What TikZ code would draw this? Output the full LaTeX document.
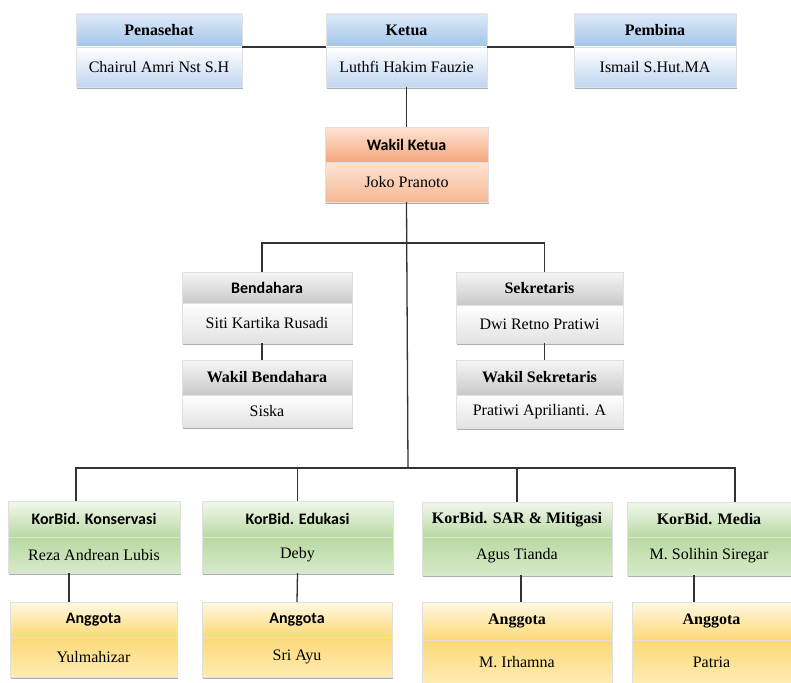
\documentclass[tikz,border=0pt]{standalone}
\usepackage{fontspec}
\setmainfont{Liberation Serif}
\newfontfamily\calfont{Carlito}
\usetikzlibrary{positioning,shadows,calc}

\definecolor{blueA}{HTML}{DDEAF9}
\definecolor{blueB}{HTML}{A2C4EA}
\definecolor{blueC}{HTML}{C0D6F0}
\definecolor{orangeA}{HTML}{FDE4D5}
\definecolor{orangeB}{HTML}{F4A67C}
\definecolor{orangeC}{HTML}{F6B893}
\definecolor{grayA}{HTML}{F6F6F6}
\definecolor{grayB}{HTML}{C9C9C9}
\definecolor{grayC}{HTML}{E2E2E2}
\definecolor{greenA}{HTML}{F1F8EC}
\definecolor{greenB}{HTML}{B9D9A2}
\definecolor{greenC}{HTML}{D6EAC8}
\definecolor{yellowA}{HTML}{FFF8E2}
\definecolor{yellowB}{HTML}{FCD977}
\definecolor{yellowC}{HTML}{FFECB3}

\tikzset{link/.style={draw=black!80,line width=1.3pt}}
\tikzset{unit/.style={inner sep=0pt,outer sep=0pt,draw=black!12,line width=0.4pt,
    font=\fontsize{16}{18}\selectfont,
    drop shadow={shadow xshift=1.2pt,shadow yshift=-1.8pt,fill=black!45,opacity=0.7}}}
\tikzset{headfont/.style={font=\fontsize{16}{18}\selectfont\bfseries}}
\tikzset{bluehead/.style={unit,headfont,top color=blueA,bottom color=blueB}}
\tikzset{bluebody/.style={unit,top color=white,bottom color=blueC}}
\tikzset{orangehead/.style={unit,headfont,top color=orangeA,bottom color=orangeB}}
\tikzset{orangebody/.style={unit,top color=orangeA,bottom color=orangeC}}
\tikzset{grayhead/.style={unit,headfont,top color=grayA,bottom color=grayB}}
\tikzset{graybody/.style={unit,top color=white,bottom color=grayC}}
\tikzset{greenhead/.style={unit,headfont,top color=greenA,bottom color=greenB}}
\tikzset{greenbody/.style={unit,top color=greenB,bottom color=greenC}}
\tikzset{yellowhead/.style={unit,headfont,top color=yellowA,bottom color=yellowB}}
\tikzset{yellowbody/.style={unit,top color=yellowB,bottom color=yellowC}}

% name, colour, x, top, width, head height, body height, head, body
\newcommand{\orgunit}[9]{%
  \node[#2head,minimum width=#5pt,minimum height=#6pt,anchor=north west] (#1h) at (#3,#4) {#8};
  \node[#2body,minimum width=#5pt,minimum height=#7pt,anchor=north] (#1b) at (#1h.south) {#9};
}

\begin{document}
\begin{tikzpicture}[x=1pt,y=-1pt]
  \useasboundingbox[fill=white] (0,0) rectangle (791,682);

  % Top row
  \orgunit{pen}{blue}{76}{14}{166}{33}{40}{Penasehat}{Chairul Amri Nst S.H}
  \orgunit{ket}{blue}{326}{14}{161}{33}{40}{Ketua}{Luthfi Hakim Fauzie}
  \orgunit{pem}{blue}{574}{14}{162}{33}{40}{Pembina}{Ismail S.Hut.MA}
  \orgunit{wak}{orange}{325}{127}{163}{35}{40}{\calfont Wakil Ketua}{Joko Pranoto}

  % Bendahara and Sekretaris
  \orgunit{ben}{gray}{182}{272}{170}{31}{40}{\calfont Bendahara}{Siti Kartika Rusadi}
  \orgunit{sek}{gray}{456}{272}{167}{33}{38}{Sekretaris}{Dwi Retno Pratiwi}
  \orgunit{wben}{gray}{182}{360}{170}{35}{32}{Wakil Bendahara}{Siska}
  \orgunit{wsek}{gray}{456}{360}{167}{35}{33}{Wakil Sekretaris}{Pratiwi Aprilianti. A}

  % KorBid row
  \orgunit{kon}{green}{8}{501}{172}{36}{36}{\calfont KorBid. Konservasi}{Reza Andrean Lubis}
  \orgunit{edu}{green}{202}{501}{191}{36}{36}{\calfont KorBid. Edukasi}{Deby}
  \orgunit{sar}{green}{422}{502}{190}{35}{38}{KorBid. SAR \& Mitigasi}{Agus Tianda}
  \orgunit{med}{green}{627}{502}{164}{35}{38}{KorBid. Media}{M. Solihin Siregar}

  % Anggota row
  \orgunit{ang1}{yellow}{10}{602}{167}{35}{40}{\calfont Anggota}{Yulmahizar}
  \orgunit{ang2}{yellow}{202}{602}{190}{35}{40}{\calfont Anggota}{Sri Ayu}
  \orgunit{ang3}{yellow}{422}{602}{190}{38}{44}{Anggota}{M. Irhamna}
  \orgunit{ang4}{yellow}{632}{602}{159}{38}{44}{Anggota}{Patria}

  \coordinate (split) at (408,243);
  \coordinate (bus) at (408,468);

  % Connectors
  \draw[link] (penb.north east) -- (ketb.north west);
  \draw[link] (ketb.north east) -- (pemb.north west);
  \draw[link] (ketb.south) -- (wakh.north);
  \draw[link] (wakb.south) -- (bus);
  \draw[link] ([xshift=-5pt]benh.north) |- (split) -| ([xshift=5pt]sekh.north);
  \draw[link] ([xshift=-5pt]benb.south) -- ([xshift=-5pt]wbenh.north);
  \draw[link] ([xshift=5pt]sekb.south) -- ([xshift=5pt]wsekh.north);
  \draw[link] ([xshift=-18pt]konh.north) |- (bus) -| ([xshift=26pt]medh.north);
  \draw[link] (eduh.north) -- (eduh.north |- bus);
  \draw[link] (sarh.north) -- (sarh.north |- bus);
  \draw[link] ([xshift=-25pt]konb.south) -- ([xshift=-25pt]konb.south |- ang1h.north);
  \draw[link] (edub.south) -- (ang2h.north);
  \draw[link] ([xshift=4pt]sarb.south) -- ([xshift=4pt]ang3h.north);
  \draw[link] ([xshift=-15pt]medb.south) -- ([xshift=-15pt]medb.south |- ang4h.north);

\end{tikzpicture}
\end{document}
